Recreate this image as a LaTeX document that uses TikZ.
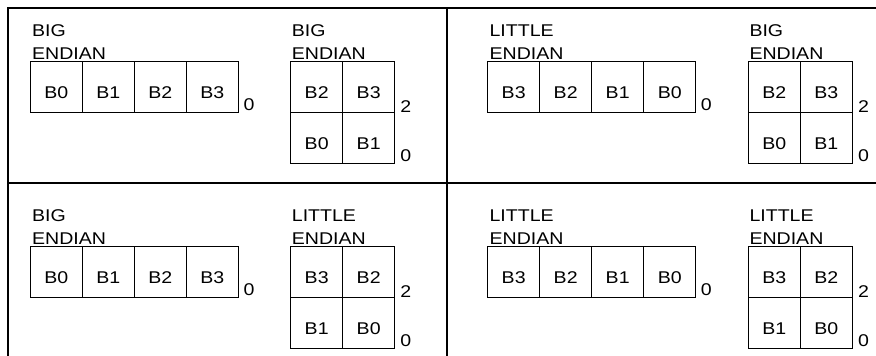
\documentclass[tikz,border=0pt]{standalone}
\usepackage{fontspec}
\setmainfont{Liberation Sans}[FakeStretch=1.15]
\usetikzlibrary{calc}
\tikzset{
  frame/.style={line width=2pt, line cap=rect},
  cell/.style={draw, line width=0.8pt, minimum width=52pt, minimum height=51pt,
    inner sep=0pt, outer sep=0pt, text height=23pt, text depth=0pt,
    font=\fontsize{17}{23}\selectfont},
  hdr/.style={anchor=base west, align=left, inner sep=0pt,
    font=\fontsize{17}{23}\selectfont},
  num/.style={anchor=base west, inner sep=0pt, font=\fontsize{17}{23}\selectfont}
}
% #1 prefix, #2 hx, #3 sx, #4 yoff, #5 left header, #6 right header, #7 row list, #8 square list
\newcommand{\mypanel}[8]{%
  \begin{scope}[shift={(0,#4)}]
    \node[hdr] (#1hl) at ({#2+1.7},59) {#5};
    \foreach \t [count=\i] in {#7} {
      \node[cell] (#1h\i) at ({#2+52*\i-26},86.5) {\t};
    }
    \node[num] (#1hn) at ($(#1h4.south east)+(5,-2)$) {0};
    \node[hdr] (#1sl) at ({#3+1},59) {#6};
    \foreach \t [count=\i] in {#8} {
      \pgfmathsetmacro{\cx}{#3+26+52*mod(\i-1,2)}
      \pgfmathsetmacro{\cy}{86.5+51*int((\i-1)/2)}
      \node[cell] (#1s\i) at (\cx,\cy) {\t};
    }
    \node[num] (#1sa) at ($(#1s2.south east)+(5.5,0)$) {2};
    \node[num] (#1sb) at ($(#1s4.south east)+(5.5,-2)$) {0};
  \end{scope}
}
\begin{document}
\begin{tikzpicture}[x=1pt,y=-1pt]
  \useasboundingbox (0,0) rectangle (876,356);
  \coordinate (fbl) at (8,356);
  \coordinate (ftl) at (8,8);
  \coordinate (ftr) at (876,8);
  \coordinate (fmt) at (446.5,8);
  \coordinate (fmb) at (446.5,356);
  \coordinate (fml) at (8,183.3);
  \coordinate (fmr) at (876,183.3);
  \draw[frame] (fbl) -- (ftl) -- (ftr);
  \draw[frame] (fmt) -- (fmb);
  \draw[frame] (fml) -- (fmr);
  \mypanel{a}{30.3}{290.7}{0}{BIG\\ENDIAN}{BIG\\ENDIAN}{B0,B1,B2,B3}{B2,B3,B0,B1}
  \mypanel{b}{487.7}{748.3}{0}{LITTLE\\ENDIAN}{BIG\\ENDIAN}{B3,B2,B1,B0}{B2,B3,B0,B1}
  \mypanel{c}{30.3}{290.7}{185}{BIG\\ENDIAN}{LITTLE\\ENDIAN}{B0,B1,B2,B3}{B3,B2,B1,B0}
  \mypanel{d}{487.7}{748.3}{185}{LITTLE\\ENDIAN}{LITTLE\\ENDIAN}{B3,B2,B1,B0}{B3,B2,B1,B0}
\end{tikzpicture}
\end{document}
